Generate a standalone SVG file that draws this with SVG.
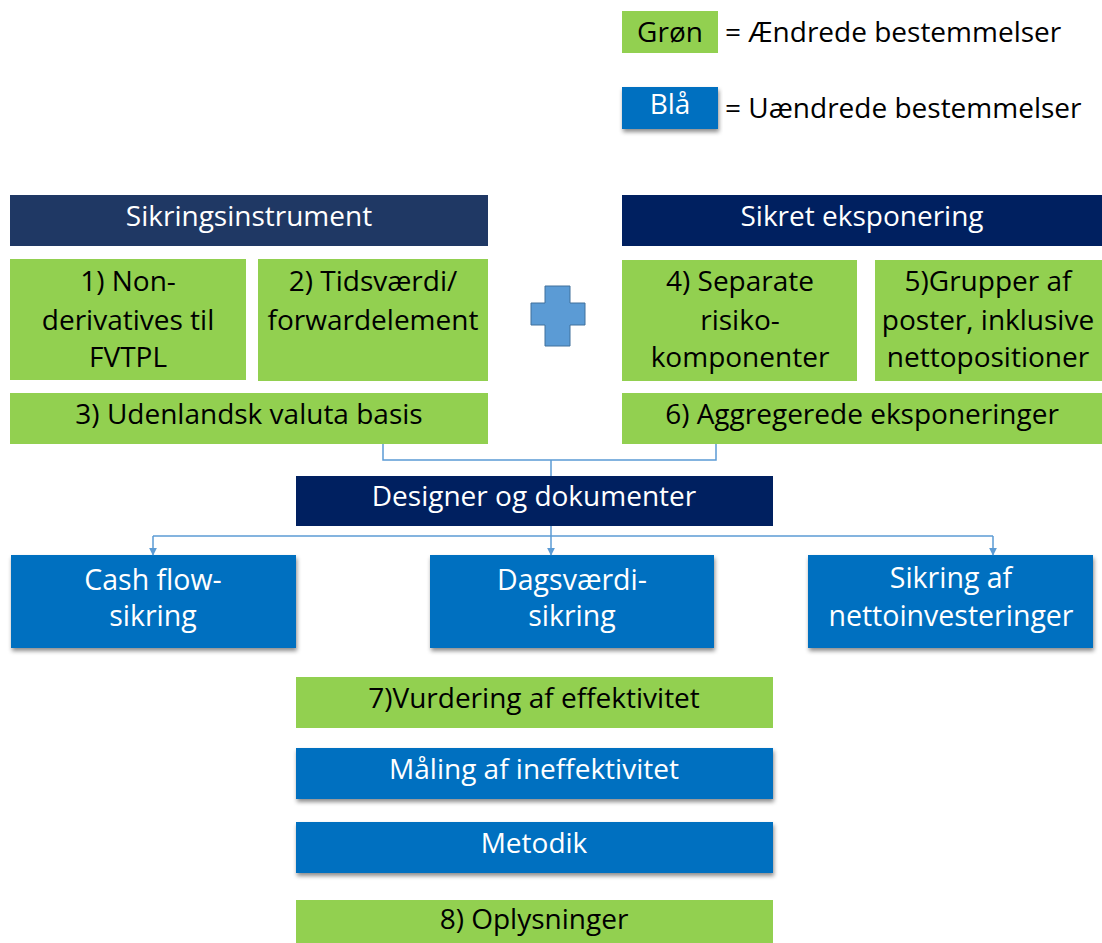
<svg xmlns="http://www.w3.org/2000/svg" width="1102" height="943" viewBox="0 0 1102 943">
  <defs>
    <style>
      .green { fill: #92D050; }
      .blue { fill: #0070C0; }
      .navy { fill: #002060; }
      .slate { fill: #1F3864; }
      .dk { font-family: "Open Sans", "Liberation Sans", sans-serif; font-size: 28px; fill: #000; text-anchor: middle; }
      .wt { font-family: "Open Sans", "Liberation Sans", sans-serif; font-size: 28px; fill: #fff; text-anchor: middle; }
      .big { font-size: 28.5px; }
      .leg { font-family: "Open Sans", "Liberation Sans", sans-serif; font-size: 28px; fill: #000; }
      .conn { fill: none; stroke: #5B9BD5; stroke-width: 1.5; }
    </style>
    <filter id="shadow" x="-5%" y="-10%" width="110%" height="130%">
      <feDropShadow dx="1" dy="3" stdDeviation="2" flood-color="#000" flood-opacity="0.45"/>
    </filter>
    <marker id="arrow" viewBox="0 0 10 10" refX="9" refY="5" markerWidth="8" markerHeight="8" markerUnits="userSpaceOnUse" orient="auto">
      <path d="M0,0 L10,5 L0,10 z" fill="#5B9BD5"/>
    </marker>
  </defs>

  <!-- legend -->
  <g id="legend-green">
    <rect class="green" x="622" y="11" width="96" height="42"/>
    <text class="dk" x="670" y="42">Grøn</text>
    <text class="leg" x="725" y="42">= Ændrede bestemmelser</text>
  </g>
  <g id="legend-blue">
    <rect class="blue" x="622" y="87" width="96" height="42" filter="url(#shadow)"/>
    <text class="wt" x="670" y="114">Blå</text>
    <text class="leg" x="725" y="118">= Uændrede bestemmelser</text>
  </g>

  <!-- hedging instrument column -->
  <g id="sikringsinstrument">
    <rect class="slate" x="10" y="195" width="478" height="51"/>
    <text class="wt" x="249" y="226">Sikringsinstrument</text>
  </g>
  <g id="node1">
    <rect class="green" x="10" y="259" width="236" height="121"/>
    <text class="dk" x="128" y="291">1) Non-</text>
    <text class="dk" x="128" y="330">derivatives til</text>
    <text class="dk" x="128" y="367">FVTPL</text>
  </g>
  <g id="node2">
    <rect class="green" x="258" y="259" width="230" height="122"/>
    <text class="dk" x="373" y="291">2) Tidsværdi/</text>
    <text class="dk" x="373" y="330">forwardelement</text>
  </g>
  <g id="node3">
    <rect class="green" x="10" y="393" width="478" height="51"/>
    <text class="dk" x="249" y="424">3) Udenlandsk valuta basis</text>
  </g>

  <!-- plus sign -->
  <g id="plus">
    <path d="M545,286 H570 V303 H585 V325 H570 V346 H545 V325 H531 V303 H545 Z" fill="#5B9BD5" stroke="#41719C" stroke-width="1"/>
  </g>

  <!-- hedged exposure column -->
  <g id="sikret-eksponering">
    <rect class="navy" x="622" y="195" width="480" height="51"/>
    <text class="wt" x="862" y="226">Sikret eksponering</text>
  </g>
  <g id="node4">
    <rect class="green" x="622" y="260" width="235" height="121"/>
    <text class="dk" x="740" y="291">4) Separate</text>
    <text class="dk" x="740" y="330">risiko-</text>
    <text class="dk" x="740" y="367">komponenter</text>
  </g>
  <g id="node5">
    <rect class="green" x="875" y="260" width="227" height="121"/>
    <text class="dk" x="988" y="291">5)Grupper af</text>
    <text class="dk" x="988" y="330">poster, inklusive</text>
    <text class="dk" x="988" y="367">nettopositioner</text>
  </g>
  <g id="node6">
    <rect class="green" x="622" y="393" width="480" height="51"/>
    <text class="dk" x="862" y="424">6) Aggregerede eksponeringer</text>
  </g>

  <!-- design & document -->
  <g id="designer">
    <rect class="navy" x="296" y="476" width="477" height="50"/>
    <text class="wt" x="534" y="506">Designer og dokumenter</text>
  </g>

  <!-- hedge types -->
  <g id="cashflow">
    <rect class="blue" x="11" y="555" width="285" height="93" filter="url(#shadow)"/>
    <text class="wt big" x="153" y="590">Cash flow-</text>
    <text class="wt big" x="153" y="626">sikring</text>
  </g>
  <g id="dagsvaerdi">
    <rect class="blue" x="430" y="555" width="284" height="93" filter="url(#shadow)"/>
    <text class="wt big" x="572" y="590">Dagsværdi-</text>
    <text class="wt big" x="572" y="626">sikring</text>
  </g>
  <g id="nettoinvestering">
    <rect class="blue" x="808" y="555" width="285" height="93" filter="url(#shadow)"/>
    <text class="wt big" x="951" y="588">Sikring af</text>
    <text class="wt big" x="951" y="626">nettoinvesteringer</text>
  </g>

  <!-- effectiveness, measurement, method, disclosure -->
  <g id="node7">
    <rect class="green" x="296" y="677" width="477" height="51"/>
    <text class="dk" x="534" y="708">7)Vurdering af effektivitet</text>
  </g>
  <g id="maaling">
    <rect class="blue" x="296" y="748" width="477" height="51" filter="url(#shadow)"/>
    <text class="wt" x="534" y="779">Måling af ineffektivitet</text>
  </g>
  <g id="metodik">
    <rect class="blue" x="296" y="822" width="477" height="51" filter="url(#shadow)"/>
    <text class="wt" x="534" y="853">Metodik</text>
  </g>
  <g id="node8">
    <rect class="green" x="296" y="900" width="477" height="43"/>
    <text class="dk" x="534" y="929">8) Oplysninger</text>
  </g>

  <!-- connectors -->
  <g id="connectors">
    <path class="conn" d="M383,444 V460 H716 V444"/>
    <path class="conn" d="M551,460 V476"/>
    <path class="conn" d="M551,526 V536"/>
    <path class="conn" d="M153,536 H993"/>
    <path class="conn" d="M153,536 V555" marker-end="url(#arrow)"/>
    <path class="conn" d="M551,536 V555" marker-end="url(#arrow)"/>
    <path class="conn" d="M993,536 V555" marker-end="url(#arrow)"/>
  </g>
</svg>
